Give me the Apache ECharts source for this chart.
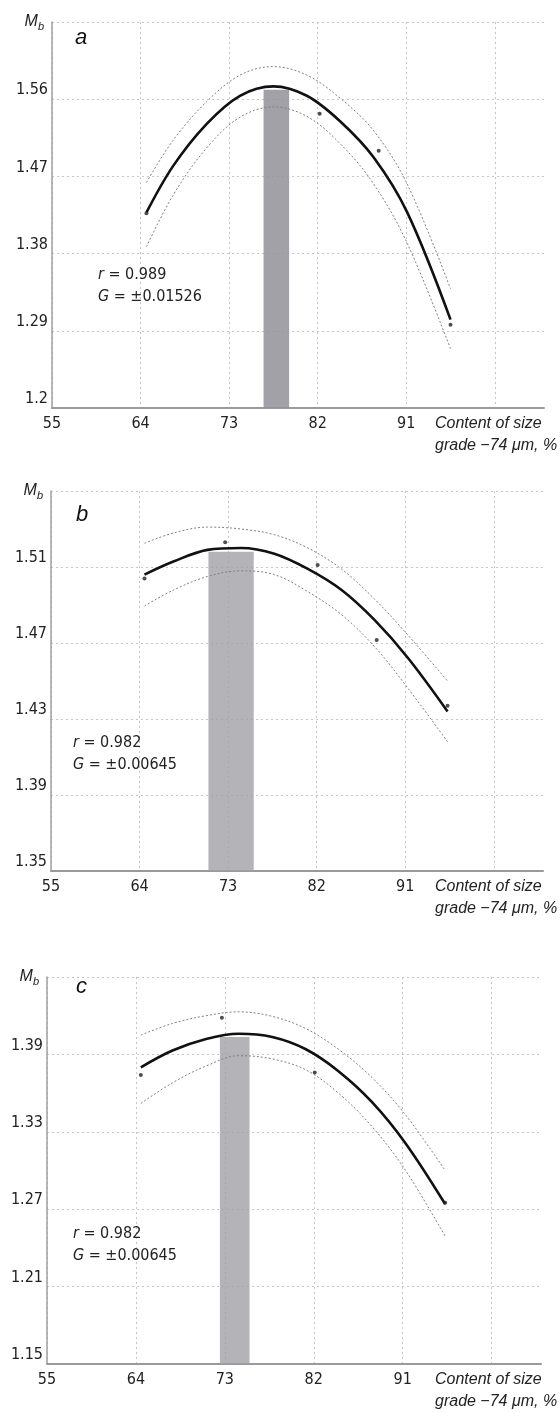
<!DOCTYPE html>
<html>
<head>
<meta charset="utf-8">
<script src="https://cdn.jsdelivr.net/npm/echarts@6/dist/echarts.min.js"></script>
<style>
  html, body { margin: 0; padding: 0; background: #fff; }
  #chart { width: 560px; height: 1413px; }
</style>
</head>
<body>
<div id="chart"></div>
<script>
// panel a : fitted curve + confidence bounds, read at these x positions
const xA = [64.6, 67.3, 70.7, 74.1, 77.5, 80.9, 84.3, 87.7, 91.1, 95.5];
const fitA = [1.428, 1.482, 1.531, 1.564, 1.575, 1.564, 1.534, 1.492, 1.428, 1.303];
const upA = [1.463, 1.512, 1.557, 1.588, 1.598, 1.588, 1.561, 1.523, 1.461, 1.339];
const loA = [1.388, 1.448, 1.503, 1.539, 1.551, 1.540, 1.508, 1.461, 1.392, 1.269];
const ptXA = [64.6, 82.2, 88.2, 95.5];
const ptYA = [1.427, 1.543, 1.500, 1.297];
const bandA = [76.5, 79.1, 1.571];   // from, to, top
const statsA = ['0.989', '±0.01526'];

// panel b
const xB = [64.5, 67.5, 70.9, 74.3, 77.7, 81.1, 84.5, 87.9, 91.3, 95.3];
const fitB = [1.506, 1.513, 1.519, 1.520, 1.517, 1.509, 1.498, 1.482, 1.462, 1.434];
const upB = [1.5225, 1.528, 1.531, 1.530, 1.527, 1.520, 1.509, 1.493, 1.474, 1.450];
const loB = [1.4895, 1.498, 1.505, 1.508, 1.506, 1.497, 1.485, 1.468, 1.446, 1.418];
const ptXB = [64.5, 72.7, 82.1, 88.1, 95.3];
const ptYB = [1.504, 1.523, 1.511, 1.4716, 1.437];
const bandB = [71.0, 75.6, 1.518];
const statsB = ['0.982', '±0.00645'];

// panel c
const xC = [64.5, 67.7, 71.1, 74.4, 77.8, 81.2, 84.5, 87.9, 91.3, 95.3];
const fitC = [1.380, 1.393, 1.402, 1.406, 1.4035, 1.394, 1.377, 1.353, 1.321, 1.274];
const upC = [1.405, 1.414, 1.420, 1.423, 1.4195, 1.410, 1.394, 1.372, 1.343, 1.300];
const loC = [1.352, 1.368, 1.381, 1.389, 1.3865, 1.378, 1.360, 1.334, 1.300, 1.249];
const ptXC = [64.5, 72.7, 82.1, 95.3];
const ptYC = [1.374, 1.4185, 1.376, 1.275];
const bandC = [72.5, 75.5, 1.4035];
const statsC = ['0.982', '±0.00645'];

// y axis ranges [min, max, step]
const yRangeA = [1.2, 1.65, 0.09];
const yRangeB = [1.35, 1.55, 0.04];
const yRangeC = [1.15, 1.45, 0.06];
const xRange = [55, 105, 9];
const xLastLabel = 91;

const COND = '"DejaVu Sans Condensed", "Liberation Sans Narrow", "DejaVu Sans", sans-serif';
const ITAL = '"Liberation Sans", "DejaVu Sans", sans-serif';

const panels = [
  {letter: 'a', x: xA, fit: fitA, up: upA, lo: loA, px: ptXA, py: ptYA, band: bandA, stats: statsA, y: yRangeA,
   grid: {left: 52, top: 22, width: 492, height: 386}, letterPos: [75, 27], statsPos: [98, 264], bandColor: 'rgba(145,145,152,0.85)'},
  {letter: 'b', x: xB, fit: fitB, up: upB, lo: loB, px: ptXB, py: ptYB, band: bandB, stats: statsB, y: yRangeB,
   grid: {left: 51, top: 491, width: 492, height: 380}, letterPos: [76, 504], statsPos: [73, 732], bandColor: 'rgba(160,160,166,0.8)'},
  {letter: 'c', x: xC, fit: fitC, up: upC, lo: loC, px: ptXC, py: ptYC, band: bandC, stats: statsC, y: yRangeC,
   grid: {left: 47, top: 977, width: 494, height: 390}, letterPos: [76, 976], statsPos: [73, 1223], bandColor: 'rgba(160,160,166,0.8)'}
];

function pairs(xs, ys) {
  return xs.map((v, i) => [v, ys[i]]);
}

const grids = [], xAxes = [], yAxes = [], series = [], titles = [];

panels.forEach((p, i) => {
  grids.push(p.grid);
  xAxes.push({
    type: 'value', gridIndex: i,
    min: xRange[0], max: xRange[1], interval: xRange[2],
    name: 'Content of size\ngrade \u221274 \u03bcm, %',
    nameLocation: 'end',
    nameGap: -(p.grid.left + p.grid.width - 435),
    nameTextStyle: {align: 'left', verticalAlign: 'top', fontStyle: 'italic', fontFamily: ITAL,
      fontSize: 16, lineHeight: 22, padding: [5, 0, 0, 0], color: '#222'},
    axisLine: {show: true, onZero: false, lineStyle: {color: '#9a9a9a', width: 2}},
    axisTick: {show: false},
    axisLabel: {
      fontFamily: COND, fontSize: 16, color: '#222', margin: 8, showMaxLabel: false,
      formatter: v => (v <= xLastLabel ? String(v) : '')
    },
    splitLine: {show: true, showMaxLine: false, lineStyle: {color: '#c6c6c6', width: 1, type: [2, 3]}}
  });
  yAxes.push({
    type: 'value', gridIndex: i,
    min: p.y[0], max: p.y[1], interval: p.y[2],
    name: '{m|M}{s|b}',
    nameLocation: 'end', nameGap: 0,
    nameTextStyle: {align: 'right', verticalAlign: 'middle', padding: [0, 8, 0, 0],
      rich: {
        m: {fontStyle: 'italic', fontFamily: ITAL, fontSize: 16, lineHeight: 20, color: '#222'},
        s: {fontStyle: 'italic', fontFamily: ITAL, fontSize: 11, lineHeight: 12, verticalAlign: 'bottom', color: '#222'}
      }},
    axisLine: {show: true, lineStyle: {color: '#a0a0a0', width: 1.5}},
    axisTick: {show: false},
    axisLabel: {fontFamily: COND, fontSize: 16, color: '#222', margin: 4, showMaxLabel: false,
      verticalAlign: 'bottom', lineHeight: 18},
    splitLine: {show: true, lineStyle: {color: '#c6c6c6', width: 1, type: [2, 3]}}
  });

  const dotted = {color: '#808080', width: 1, type: [2, 2]};
  series.push({
    type: 'line', xAxisIndex: i, yAxisIndex: i, data: pairs(p.x, p.up),
    smooth: 0.35, showSymbol: false, lineStyle: dotted, z: 3, silent: true
  });
  series.push({
    type: 'line', xAxisIndex: i, yAxisIndex: i, data: pairs(p.x, p.lo),
    smooth: 0.35, showSymbol: false, lineStyle: dotted, z: 3, silent: true
  });
  series.push({
    type: 'line', xAxisIndex: i, yAxisIndex: i, data: pairs(p.x, p.fit),
    smooth: 0.35, showSymbol: false, lineStyle: {color: '#111', width: 2.6}, z: 4,
    markArea: {
      silent: true,
      itemStyle: {color: p.bandColor},
      data: [[{coord: [p.band[0], p.y[0]]}, {coord: [p.band[1], p.band[2]]}]]
    }
  });
  series.push({
    type: 'scatter', xAxisIndex: i, yAxisIndex: i, data: pairs(p.px, p.py),
    symbolSize: 4, itemStyle: {color: '#222'}, z: 5
  });

  titles.push({
    text: p.letter, left: p.letterPos[0], top: p.letterPos[1], padding: 0,
    textStyle: {fontStyle: 'italic', fontWeight: 'normal', fontFamily: ITAL, fontSize: 22, color: '#111'}
  });
  titles.push({
    text: '{i|r} = ' + p.stats[0] + '\n{i|G} = ' + p.stats[1],
    left: p.statsPos[0], top: p.statsPos[1], padding: 0,
    textStyle: {fontWeight: 'normal', fontFamily: COND, fontSize: 16, lineHeight: 22, color: '#222',
      rich: {i: {fontStyle: 'italic', fontFamily: COND, fontSize: 16, lineHeight: 22, color: '#222'}}}
  });
});

const chart = echarts.init(document.getElementById('chart'));
chart.setOption({
  animation: false,
  backgroundColor: '#fff',
  title: titles,
  grid: grids,
  xAxis: xAxes,
  yAxis: yAxes,
  series: series
});
</script>
</body>
</html>
